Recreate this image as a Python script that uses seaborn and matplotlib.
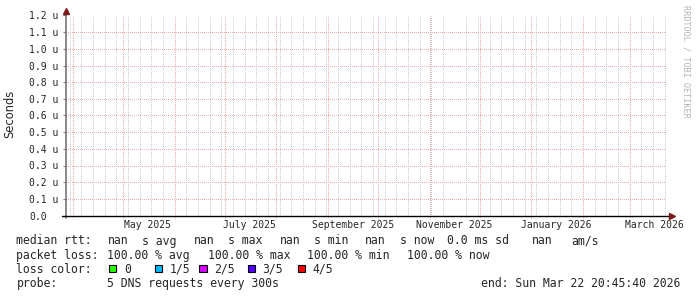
import numpy as np
import pandas as pd
import matplotlib
matplotlib.use("Agg")
import matplotlib.pyplot as plt
import matplotlib.dates as mdates
from matplotlib.patches import Rectangle
import seaborn as sns
from datetime import datetime, timedelta

# ---------------- data ----------------
end_time = datetime(2026, 3, 22, 20, 45, 40)
span_days = 360
rtt_times = [end_time - timedelta(days=span_days), end_time]
median_rtt = [np.nan, np.nan]          # no samples received (100% loss)

y_ticks = [0.0, 0.1e-6, 0.2e-6, 0.3e-6, 0.4e-6, 0.5e-6, 0.6e-6,
           0.7e-6, 0.8e-6, 0.9e-6, 1.0e-6, 1.1e-6, 1.2e-6]
y_tick_labels = ["0.0", "0.1 u", "0.2 u", "0.3 u", "0.4 u", "0.5 u", "0.6 u",
                 "0.7 u", "0.8 u", "0.9 u", "1.0 u", "1.1 u", "1.2 u"]
x_label_dates = [datetime(2025, 5, 16), datetime(2025, 7, 16), datetime(2025, 9, 16),
                 datetime(2025, 11, 16), datetime(2026, 1, 16), datetime(2026, 3, 16)]
x_labels = ["May 2025", "July 2025", "September 2025", "November 2025",
            "January 2026", "March 2026"]

rtt_stats = ["nan", "nan", "nan", "nan"]
rtt_stat_names = ["s avg", "s max", "s min", "s now"]
rtt_sd = "0.0 ms sd"
rtt_am = "nan"
loss_stats = ["100.00 % avg", "100.00 % max", "100.00 % min", "100.00 % now"]
loss_labels = ["0", "1/5", "2/5", "3/5", "4/5"]
loss_colors = ["#26ff00", "#00b8ff", "#d400ff", "#5500ff", "#ff0000"]
probe_text = "5 DNS requests every 300s"
end_text = "end: Sun Mar 22 20:45:40 2026"

# ---------------- style ----------------
sns.set_style("white")
plt.rcParams["font.family"] = ["DejaVu Sans Mono"]
W, H = 697, 297
fig = plt.figure(figsize=(W / 100, H / 100), dpi=100, facecolor="white")

L, R, T, B = 66.0, 666.0, 15.5, 215.5
ax = fig.add_axes([L / W, 1 - B / H, (R - L) / W, (B - T) / H])
ax.set_facecolor("white")

df = pd.DataFrame({"time": mdates.date2num(rtt_times), "rtt": median_rtt})
sns.lineplot(data=df, x="time", y="rtt", ax=ax, color="#007a00", legend=False)

xmin, xmax = mdates.date2num(rtt_times[0]), mdates.date2num(rtt_times[1])
ax.set_xlim(xmin, xmax)
ax.set_ylim(y_ticks[0], y_ticks[-1])
ax.set_xlabel("")
ax.set_ylabel("")

hpx = B - T
wpx = R - L

GRID_GRAY = "#cccccc"
GRID_RED = "#f4aaaa"
dot = (0.5, (1, 1))
gkw = dict(linestyle=dot, linewidth=0.72, antialiased=True, snap=True)

# y axis ticks / grid
ax.set_yticks(y_ticks)
ax.set_yticklabels(y_tick_labels, fontsize=7, family="DejaVu Sans Mono")
ax.tick_params(axis="y", which="major", length=2.2, width=0.8, color="#808080",
               pad=24.4, left=True)
for lab in ax.get_yticklabels():
    lab.set_horizontalalignment("left")

# x axis: weekly minor grid (skipping month starts), month-start red lines,
# labels mid-month
month_starts = [m for m in mdates.MonthLocator(bymonthday=1).tick_values(rtt_times[0], rtt_times[1])
                if xmin < m < xmax]
weeks = [w for w in mdates.WeekdayLocator(byweekday=mdates.SU).tick_values(rtt_times[0], rtt_times[1])
         if xmin < w < xmax and not any(abs(w - m) < 0.5 for m in month_starts)]
ax.xaxis.set_minor_locator(mdates.FixedLocator(weeks) if hasattr(mdates, "FixedLocator")
                           else matplotlib.ticker.FixedLocator(weeks))
ax.xaxis.grid(True, which="minor", color=GRID_GRAY, **gkw)
ax.set_xticks(mdates.date2num(x_label_dates))
ax.set_xticklabels(x_labels, fontsize=7, family="DejaVu Sans Mono")
ax.tick_params(axis="x", which="major", length=0, pad=3.5)
ax.tick_params(axis="x", which="minor", length=0)
ax.xaxis.grid(False, which="major")
for m in month_starts:
    ax.axvline(m, color=GRID_RED, zorder=0.8, **gkw)
    ax.axvline(m, ymin=-3.5 / hpx, ymax=0, color=GRID_RED, zorder=0.8,
               clip_on=False, **gkw)
ax.yaxis.grid(True, color=GRID_RED, **gkw)
ax.set_axisbelow(True)

for s in ax.spines.values():
    s.set_visible(False)

# axis lines with arrows
ax.plot([0, 0], [-2 / hpx, 1 + 3 / hpx], transform=ax.transAxes, clip_on=False,
        color="#6a6a6a", lw=1.1, zorder=5)
ax.plot([-4 / wpx, 1 + 4 / wpx], [0, 0], transform=ax.transAxes, clip_on=False,
        color="black", lw=1.0, zorder=5)
ax.plot([0], [1 + 4.5 / hpx], marker="^", ms=4.2, color="#7a1a1a", mec="#7a1a1a",
        transform=ax.transAxes, clip_on=False, zorder=6)
ax.plot([1 + 6 / wpx], [0], marker=">", ms=4.2, color="#7a1a1a", mec="#7a1a1a",
        transform=ax.transAxes, clip_on=False, zorder=6)

# y label and watermark
fig.text(10 / W, 1 - 114 / H, "Seconds", rotation=90, ha="center", va="center",
         fontsize=8.3, family="DejaVu Sans")
fig.text(686 / W, 1 - 5 / H, "RRDTOOL / TOBI OETIKER", rotation=270, ha="center",
         va="top", fontsize=6.1, color="#b4b4b4", family="DejaVu Sans Mono")

# ---------------- legend block ----------------
FS = 8.3


def ftxt(x, y, s, **kw):
    fig.text(x / W, 1 - y / H, s, fontsize=FS, family="DejaVu Sans Mono",
             va="center", **kw)


y1, y2, y3, y4 = 241.0, 255.2, 269.3, 283.6
ftxt(16.5, y1, "median rtt:")
nan_x = [107.7, 193.7, 279.5, 365.3]
for xv, val, nm in zip(nan_x, rtt_stats, rtt_stat_names):
    ftxt(xv, y1, val)
    ftxt(xv + 34.6, y1, nm)
ftxt(447.0, y1, rtt_sd)
ftxt(531.7, y1, rtt_am)
ftxt(571.5, y1, "am/s")

ftxt(16.5, y2, "packet loss:")
for xv, val in zip([106.7, 207.5, 307.3, 407.3], loss_stats):
    ftxt(xv, y2, val)

ftxt(16.5, y3, "loss color:")
box_x = [109.0, 155.0, 199.3, 247.7, 297.7]
lab_x = [124.3, 169.3, 214.0, 262.7, 312.3]
for bx, lx, lab, col in zip(box_x, lab_x, loss_labels, loss_colors):
    fig.add_artist(Rectangle((bx / W, 1 - 272.3 / H), 7.3 / W, 7.3 / H,
                             transform=fig.transFigure, facecolor=col,
                             edgecolor="black", linewidth=0.8))
    ftxt(lx, y3, lab)

ftxt(16.5, y4, "probe:")
ftxt(106.7, y4, probe_text)
ftxt(680.7, y4, end_text, ha="right")

fig.savefig("out.png", dpi=100, facecolor="white")
